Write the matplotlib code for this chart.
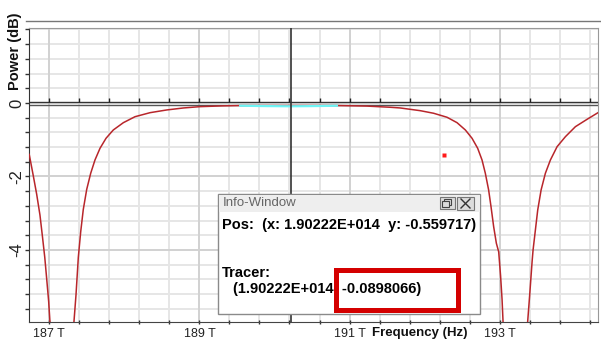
import numpy as np
import matplotlib
matplotlib.use("Agg")
import matplotlib.pyplot as plt
from matplotlib.patches import Rectangle

plt.rcParams['font.family'] = ['Liberation Sans', 'DejaVu Sans']

# trace: frequency (THz) and power (dB)
freq_thz = [186.733, 186.787, 186.832, 186.876, 186.910, 186.940, 186.965, 186.992, 187.009, 187.17,
            187.329, 187.356, 187.387, 187.419, 187.453, 187.499, 187.552, 187.609, 187.676,
            187.756, 187.853, 187.987, 188.143, 188.343, 188.565, 188.787, 189.009, 189.3, 189.543,
            190.832, 191.232, 191.543, 191.676, 191.943, 192.120, 192.299, 192.432, 192.543,
            192.632, 192.707, 192.765, 192.809, 192.853, 192.885, 192.920, 192.956, 192.987,
            193.012, 193.032, 193.045, 193.21,
            193.373, 193.400, 193.432, 193.445, 193.476, 193.507, 193.552, 193.609, 193.676,
            193.765, 193.876, 194.009, 194.165, 194.31]
power_db = [-1.40, -1.98, -2.48, -3.05, -3.65, -4.20, -4.77, -5.40, -5.951, -10.0,
            -5.951, -5.224, -4.20, -3.50, -2.90, -2.35, -1.913, -1.551, -1.233,
            -0.961, -0.735, -0.536, -0.373, -0.264, -0.190, -0.136, -0.100, -0.080, -0.070,
            -0.070, -0.085, -0.117, -0.136, -0.210, -0.280, -0.389, -0.536, -0.735,
            -0.961, -1.233, -1.551, -1.913, -2.367, -2.825, -3.366, -3.818, -4.05,
            -4.70, -5.35, -5.951, -10.0,
            -5.951, -5.224, -4.318, -4.000, -3.456, -2.912, -2.367, -1.913, -1.551,
            -1.189, -0.917, -0.645, -0.444, -0.264]

# highlighted (cyan) part of the trace
sel_freq = [189.543, 189.9, 190.222, 190.5, 190.832]
sel_power = [-0.075, -0.085, -0.09, -0.085, -0.075]

cursor_x = 190.222
marker_x, marker_y = 192.253, -1.423

x_major = [187, 189, 191, 193]
x_labels = ['187 T', '189 T', '191 T', '193 T']
y_major = [0, -2, -4]

fig = plt.figure(figsize=(6.01, 3.44), dpi=100)
ax = fig.add_axes([29 / 601, 22 / 344, 569 / 601, 294 / 344])
ax.set_xlim(186.73, 194.31)
ax.set_ylim(-5.96, 2.04)

x_minor = np.arange(187, 194.4, 0.4)
y_minor = np.arange(2.0, -6.0, -0.4)
for xv in x_minor:
    ax.axvline(xv, color='#e6e6e6', lw=1.4, zorder=0)
for yv in y_minor:
    ax.axhline(yv, color='#e6e6e6', lw=1.4, zorder=0)
for xv in x_major:
    ax.axvline(xv, color='#d2d2d2', lw=1.4, zorder=0)
for yv in y_major[1:]:
    ax.axhline(yv, color='#d2d2d2', lw=1.4, zorder=0)

ax.plot(freq_thz, power_db, color='#b8262b', lw=1.1, zorder=3)
ax.plot(sel_freq, sel_power, color='#6ef5f5', lw=1.6, zorder=4)

# zero line (double) with its ticks
ax.axhline(0.03, color='#333333', lw=1.0, zorder=5)
ax.axhline(-0.05, color='#555555', lw=1.0, zorder=2)
ax.plot(x_minor, [0.03] * len(x_minor), ls='none', marker=2, ms=3, color='#222222', mew=1.0, zorder=5)

# cursor line
ax.axvline(cursor_x, color='#333333', lw=1.2, zorder=5)
ax.plot([marker_x], [marker_y], marker='s', ms=3.2, color='#ff1a1a', mec='none', zorder=6)

for s in ['top', 'right']:
    ax.spines[s].set_linestyle((0, (1, 1)))
    ax.spines[s].set_color('#999999')
ax.spines['bottom'].set_linestyle((0, (1, 1)))
ax.spines['bottom'].set_color('#444444')
ax.spines['left'].set_color('#333333')

ax.set_xticks(x_major)
ax.set_xticklabels(x_labels, fontsize=9, color='#222222')
ax.set_xticks(x_minor, minor=True)
ax.set_yticks(y_major)
ax.set_yticklabels([str(v) for v in y_major], fontsize=12, rotation=90, va='center', color='#222222')
ax.set_yticks(y_minor, minor=True)
ax.tick_params(axis='x', which='both', direction='inout', length=3, width=1, color='#333333', pad=3)
ax.tick_params(axis='y', which='both', direction='out', length=3, width=1, color='#333333', pad=0.5)

# overlay in pixel coordinates for the window chrome
ov = fig.add_axes([0, 0, 1, 1], zorder=10)
ov.set_xlim(0, 601)
ov.set_ylim(344, 0)
ov.axis('off')
ov.patch.set_alpha(0)

ov.plot([26, 601], [21, 21], color='#777777', lw=1.0)
ov.text(15, 51, 'Power (dB)', rotation=90, ha='center', va='center', fontsize=10.5,
        fontweight='bold', color='#111111')
ov.text(420, 333, 'Frequency (Hz)', ha='center', va='center', fontsize=9.5,
        fontweight='bold', color='#111111')

# info window
ov.add_patch(Rectangle((218, 194), 262, 120, fc='white', ec='#8a8a8a', lw=1.0))
ov.add_patch(Rectangle((218.5, 194.5), 261, 17, fc='#eeeeee', ec='none'))
ov.text(223, 203, 'Info-Window', ha='left', va='center', fontsize=9.5, color='#666666')
ov.add_patch(Rectangle((440, 197), 15, 12, fc='#dcdcdc', ec='#777777', lw=0.8))
ov.add_patch(Rectangle((444, 199), 7, 6, fc='none', ec='#444444', lw=0.8))
ov.add_patch(Rectangle((442, 201), 7, 6, fc='#dcdcdc', ec='#444444', lw=0.8))
ov.add_patch(Rectangle((457, 197), 17, 13, fc='#dcdcdc', ec='#777777', lw=0.8))
ov.plot([461, 470], [199, 208], color='#333333', lw=1.0)
ov.plot([461, 470], [208, 199], color='#333333', lw=1.0)

ov.text(222, 225, 'Pos:  (x: 1.90222E+014  y: -0.559717)', ha='left', va='center',
        fontsize=10.5, fontweight='bold', color='#000000')
ov.text(222, 273, 'Tracer:', ha='left', va='center', fontsize=10.5, fontweight='bold', color='#000000')
ov.text(233, 289, '(1.90222E+014  -0.0898066)', ha='left', va='center', fontsize=10.5,
        fontweight='bold', color='#000000')
ov.add_patch(Rectangle((335.5, 269.5), 122, 40, fc='none', ec='#d40000', lw=3.6))

fig.savefig('out.png', dpi=100)
